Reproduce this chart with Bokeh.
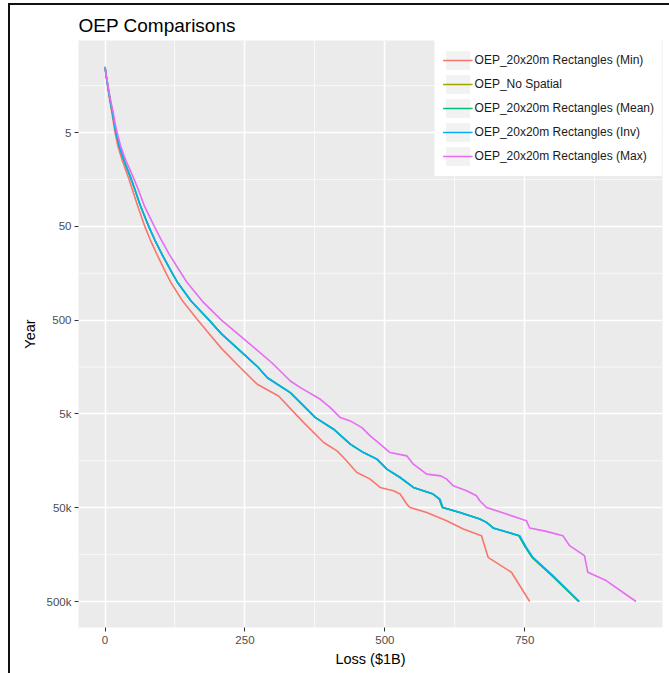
from bokeh.plotting import figure
from bokeh.models import Range1d, FixedTicker, Legend, LegendItem, Span
from bokeh.embed import file_html
from bokeh.resources import INLINE

# ---------------- data ----------------
chart_title = "OEP Comparisons"
x_title = "Loss ($1B)"
y_title = "Year"

series_names = [
    "OEP_20x20m Rectangles (Min)",
    "OEP_No Spatial",
    "OEP_20x20m Rectangles (Mean)",
    "OEP_20x20m Rectangles (Inv)",
    "OEP_20x20m Rectangles (Max)",
]
series_colors = ["#F8766D", "#A3A500", "#00BF7D", "#00B0F6", "#E76BF3"]

min_year = [1, 1.25, 1.58, 2, 2.5, 3, 4, 5, 7, 10, 15.8, 20, 30, 50, 70, 100, 158, 200, 315,
            500, 700, 1000, 1608, 2415, 3220, 4840, 6190, 10095, 12380, 14585, 21035,
            24775, 30405, 32970, 35745, 45700, 49650, 56100, 68750, 84300, 99300, 168950,
            243900, 500000]
min_loss = [0, 2, 4.5, 7, 9.8, 12, 15.3, 18, 23, 31, 43, 48.5, 58, 71, 81, 93, 109, 118, 139,
            166, 186, 208, 242, 272, 310, 338, 355, 390.6, 414.4, 426.2, 450,
            473.7, 491.5, 515.2, 527.2, 539.1, 545, 574.7, 610.3, 640, 672.6, 684.4,
            726.1, 758.7]

inv_year = [1, 1.25, 1.58, 2, 2.5, 3, 4, 5, 7, 10, 15.8, 20, 30, 50, 70, 100, 158, 200, 315,
            500, 700, 1069, 1581, 2055, 2966, 3790, 5470, 7275, 10510, 12910, 15170, 19365,
            23810, 30405, 35745, 40390, 49650, 56100, 65950, 71650, 82200, 99300, 132200,
            168950, 264350, 500000]
inv_loss = [0, 2.2, 4.9, 7.6, 10.5, 13, 16.5, 19.5, 25.5, 34, 47, 53, 63, 78, 89, 102, 120,
            130, 154, 186, 208, 242, 273, 290, 331, 349, 375.8, 408.4, 438.1, 461.8, 485.7,
            503.5, 527.2, 550.9, 586.5, 598.4, 603.8, 634, 669.6, 681.6, 693.3, 740.9,
            752.8, 764.6, 800.2, 847.7]

mean_year = inv_year
mean_loss = [0, 2.2, 4.9, 7.6, 10.5, 13, 16.5, 19.5, 25.5, 34, 47, 53, 63, 78, 89, 102, 120,
             130, 154, 186, 208, 242, 273, 290, 331, 349, 375.8, 408.4, 438.1, 461.8, 485.7,
             503.5, 527.2, 550.9, 586.0, 597.2, 602.6, 634, 669.6, 681.6, 693.3, 739.4,
             751.2, 763.0, 798.6, 846.2]

nospatial_year = inv_year
nospatial_loss = [0, 2.2, 4.9, 7.6, 10.5, 13, 16.5, 19.5, 25.5, 34, 47, 53, 63, 78, 89, 102,
                  120, 130, 154, 186, 208, 242, 273, 290, 331, 349, 375.8, 408.4, 438.1,
                  461.8, 485.7, 503.5, 527.2, 550.9, 586.0, 597.2, 602.6, 634, 669.6, 681.6,
                  693.3, 739.4, 751.2, 763.0, 798.6, 846.2]

max_year = [1, 1.25, 1.58, 2, 2.5, 3, 4, 5, 7, 10, 15.8, 20, 30, 50, 69, 100, 158, 200, 315,
            500, 740, 1000, 1423, 2228, 2624, 3490, 4287, 5470, 5935, 6995, 8570, 10510,
            12910, 13995, 17145, 21925, 22855, 24775, 29170, 32970, 37270, 42150, 49650,
            58350, 68750, 82200, 89350, 99300, 126800, 162150, 243900, 299000, 500000]
max_loss = [0, 2.4, 5.3, 8.3, 11.5, 14.3, 18, 21.5, 28, 37.5, 52, 59, 70, 88, 100, 115, 136,
            147, 174, 208, 242, 268, 298, 331, 349.1, 384.7, 402.5, 420.3, 438.1, 458.9,
            473.7, 491.5, 509.3, 539.1, 550.9, 574.7, 600, 610.3, 622.1, 645.9, 663.7,
            669.6, 681.6, 717.2, 752.8, 758.7, 788.4, 818, 829.9, 856.6, 862.5, 895.3, 948.7]

x_ticks = [0, 250, 500, 750]
x_minor = [125, 375, 625, 875]
y_ticks = [5, 50, 500, 5000, 50000, 500000]
y_tick_labels = ["5", "50", "500", "5k", "50k", "500k"]
y_minor = [1.5811, 15.811, 158.11, 1581.1, 15811, 158114]

series_years = [min_year, nospatial_year, mean_year, inv_year, max_year]
series_losses = [min_loss, nospatial_loss, mean_loss, inv_loss, max_loss]

FONT = "Liberation Sans"

# ---------------- figure ----------------
p = figure(width=669, height=673, y_axis_type="log",
           x_range=Range1d(-47.4, 996.0), y_range=Range1d(946000, 0.522),
           output_backend="svg", toolbar_location=None, title=chart_title,
           min_border_left=78, min_border_right=7, min_border_top=40, min_border_bottom=46)

p.background_fill_color = "#EBEBEB"
p.border_fill_color = "white"
p.border_fill_alpha = 0
p.outline_line_color = None
# outer black frame of the picture (left and top edges)
p.styles = {
    "background-color": "white",
    "box-shadow": "inset 8px 3px 0 0 white, inset 10px 5px 0 0 #111111",
}

p.title.text_font = FONT
p.title.text_font_size = "19px"
p.title.text_font_style = "normal"
p.title.text_color = "black"
p.title.align = "left"

p.xaxis.ticker = FixedTicker(ticks=x_ticks, minor_ticks=x_minor)
p.yaxis.ticker = FixedTicker(ticks=y_ticks)
p.yaxis.major_label_overrides = {t: l for t, l in zip(y_ticks, y_tick_labels)}
p.xaxis.axis_label = x_title
p.yaxis.axis_label = y_title

for ax in (p.xaxis, p.yaxis):
    ax.axis_line_color = None
    ax.major_tick_line_color = "#333333"
    ax.major_tick_line_width = 1
    ax.major_tick_out = 4
    ax.major_tick_in = 0
    ax.minor_tick_line_color = None
    ax.major_label_text_color = "#4D4D4D"
    ax.major_label_text_font = FONT
    ax.major_label_text_font_size = "11.5px"
    ax.axis_label_text_font = FONT
    ax.axis_label_text_font_size = "14.5px"
    ax.axis_label_text_font_style = "normal"
    ax.axis_label_text_color = "black"
p.xaxis.major_label_standoff = 4
p.yaxis.major_label_standoff = 3
p.xaxis.axis_label_standoff = 4
p.yaxis.axis_label_standoff = 6

for g in (p.xgrid, p.ygrid):
    g.grid_line_color = "white"
    g.grid_line_width = 1.5
p.xgrid.minor_grid_line_color = "white"
p.xgrid.minor_grid_line_width = 0.7

for ym in y_minor:
    p.add_layout(Span(location=ym, dimension="width", line_color="white",
                      line_width=0.7, level="underlay"))

# key background (grey boxes in legend) - zero-area quad
key_bg = p.quad(left=[min_loss[0]], right=[min_loss[0]], top=[min_year[0]],
                bottom=[min_year[0]], fill_color="#F2F2F2", line_color=None)

items = []
for name, col, yrs, losses in zip(series_names, series_colors, series_years, series_losses):
    r = p.line(losses, yrs, line_color=col, line_width=1.6)
    items.append(LegendItem(label=name, renderers=[key_bg, r]))

# a white border acts as the legend's padding
legend = Legend(items=items, location="top_right", glyph_width=30, glyph_height=24,
                spacing=0, padding=0, margin=0, label_standoff=2,
                label_text_font=FONT, label_text_font_size="12px",
                label_text_color="#1A1A1A", label_height=24,
                background_fill_color="white", background_fill_alpha=1,
                border_line_color="white", border_line_width=8)
p.add_layout(legend)

open("out.html", "w").write(file_html(p, INLINE))
